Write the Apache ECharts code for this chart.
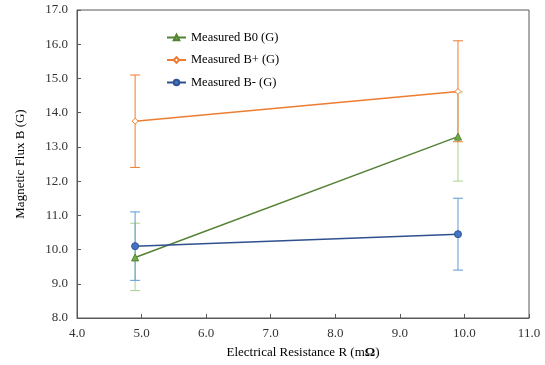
<!DOCTYPE html>
<html>
<head>
<meta charset="utf-8">
<script src="https://cdn.jsdelivr.net/npm/echarts@6/dist/echarts.min.js"></script>
<style>
  html, body { margin: 0; padding: 0; background: #fff; }
  #chart { width: 545px; height: 365px; }
</style>
</head>
<body>
<div id="chart"></div>
<script>
// resistance values (mOhm)
const resistance = [4.9, 9.9];

// measured flux values (G) and error bar ends
const b0 = [9.77, 13.3];
const b0Low = [8.8, 12.0];
const b0High = [10.77, 14.6];

const bPlus = [13.75, 14.62];
const bPlusLow = [12.4, 13.15];
const bPlusHigh = [15.1, 16.1];

const bMinus = [10.1, 10.45];
const bMinusLow = [9.1, 9.4];
const bMinusHigh = [11.1, 11.5];

const fontFamily = '"Liberation Serif", "Times New Roman", serif';

const errorBars = (name, low, high, color) => ({
  name: name,
  type: 'custom',
  silent: true,
  z: 1,
  data: resistance.map((x, i) => [x, low[i], high[i]]),
  renderItem: function (params, api) {
    const lo = api.coord([api.value(0), api.value(1)]);
    const hi = api.coord([api.value(0), api.value(2)]);
    const w = 5;
    const style = { stroke: color, lineWidth: 1 };
    return {
      type: 'group',
      children: [
        { type: 'line', shape: { x1: lo[0], y1: lo[1], x2: hi[0], y2: hi[1] }, style: style },
        { type: 'line', shape: { x1: lo[0] - w, y1: lo[1], x2: lo[0] + w, y2: lo[1] }, style: style },
        { type: 'line', shape: { x1: hi[0] - w, y1: hi[1], x2: hi[0] + w, y2: hi[1] }, style: style }
      ]
    };
  }
});

const chart = echarts.init(document.getElementById('chart'));

chart.setOption({
  animation: false,
  textStyle: { fontFamily: fontFamily },
  grid: { left: 77, right: 16, top: 10, bottom: 47, show: true, borderColor: '#595959', borderWidth: 1 },
  legend: {
    left: 161,
    top: 26,
    orient: 'vertical',
    itemGap: 9.5,
    itemWidth: 19,
    itemHeight: 7,
    textStyle: { fontFamily: fontFamily, fontSize: 12.5, color: '#000' },
    data: ['Measured B0 (G)', 'Measured B+ (G)', 'Measured B- (G)']
  },
  xAxis: {
    type: 'value',
    min: 4,
    max: 11,
    interval: 1,
    name: 'Electrical Resistance R (m{b|Ω})',
    nameLocation: 'middle',
    nameGap: 28,
    nameTextStyle: {
      fontFamily: fontFamily, fontSize: 13, color: '#000',
      rich: { b: { fontFamily: fontFamily, fontSize: 13, fontWeight: 'bold', color: '#000' } }
    },
    axisLine: { lineStyle: { color: '#595959' } },
    axisTick: { inside: true, length: 4, lineStyle: { color: '#595959' } },
    splitLine: { show: false },
    axisLabel: { color: '#333', fontSize: 13, margin: 9, formatter: v => v.toFixed(1) }
  },
  yAxis: {
    type: 'value',
    min: 8,
    max: 17,
    interval: 1,
    name: 'Magnetic Flux B (G)',
    nameLocation: 'middle',
    nameGap: 50,
    nameTextStyle: { fontFamily: fontFamily, fontSize: 13, color: '#000' },
    axisLine: { show: true, lineStyle: { color: '#595959' } },
    axisTick: { show: true, inside: true, length: 4, lineStyle: { color: '#595959' } },
    splitLine: { show: false },
    axisLabel: { color: '#333', fontSize: 13, margin: 9, formatter: v => v.toFixed(1) }
  },
  series: [
    errorBars('b0-err', b0Low, b0High, '#a9d18e'),
    errorBars('bplus-err', bPlusLow, bPlusHigh, '#ed7d31'),
    errorBars('bminus-err', bMinusLow, bMinusHigh, '#5b9bd5'),
    {
      name: 'Measured B0 (G)',
      type: 'line',
      z: 3,
      data: resistance.map((x, i) => [x, b0[i]]),
      symbol: 'triangle',
      symbolSize: 7,
      lineStyle: { color: '#548235', width: 1.5 },
      itemStyle: { color: '#70ad47', borderColor: '#548235', borderWidth: 1 }
    },
    {
      name: 'Measured B+ (G)',
      type: 'line',
      z: 3,
      data: resistance.map((x, i) => [x, bPlus[i]]),
      symbol: 'diamond',
      symbolSize: 6,
      lineStyle: { color: '#ed7d31', width: 1.5 },
      itemStyle: { color: '#fff', borderColor: '#ed7d31', borderWidth: 1 }
    },
    {
      name: 'Measured B- (G)',
      type: 'line',
      z: 3,
      data: resistance.map((x, i) => [x, bMinus[i]]),
      symbol: 'circle',
      symbolSize: 7,
      lineStyle: { color: '#2f4f8f', width: 1.5 },
      itemStyle: { color: '#4472c4', borderColor: '#2f5597', borderWidth: 1 }
    }
  ]
});
</script>
</body>
</html>
